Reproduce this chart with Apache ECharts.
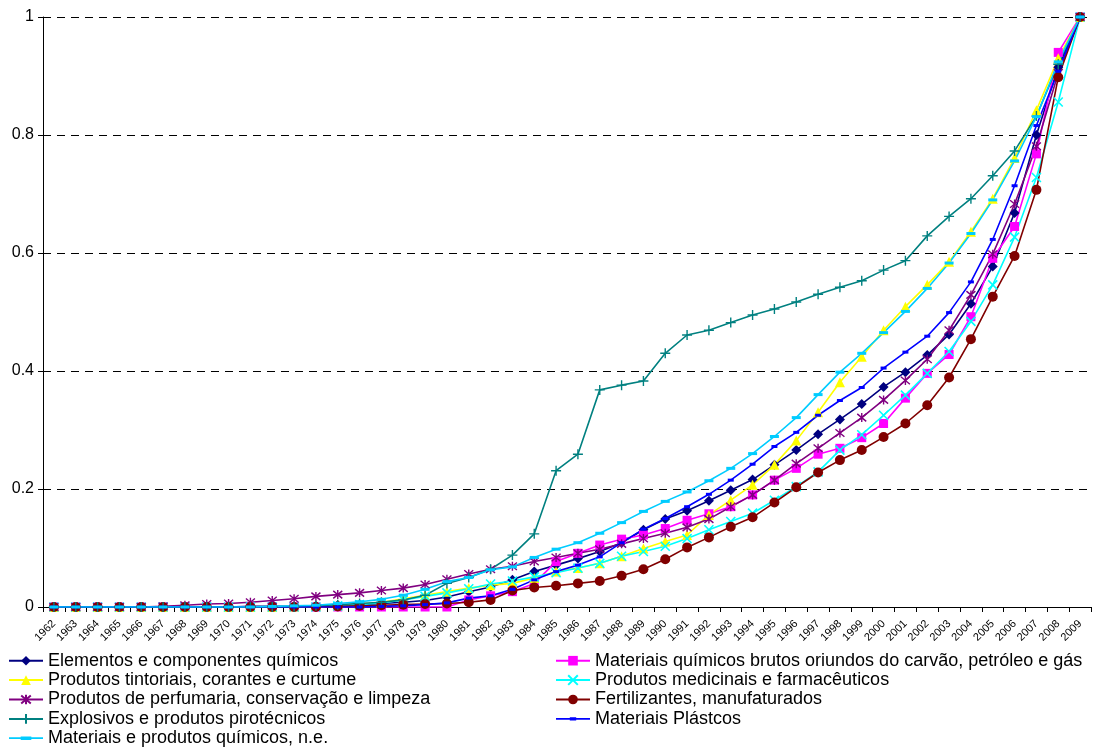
<!DOCTYPE html>
<html>
<head>
<meta charset="utf-8">
<style>
  html, body { margin: 0; padding: 0; background: #fff; }
  #chart { width: 1093px; height: 749px; }
</style>
<script src="https://cdn.jsdelivr.net/npm/echarts@6/dist/echarts.min.js"></script>
</head>
<body>
<div id="chart"></div>
<script>
// Years 1962–2009
const years = [];
for (let y = 1962; y <= 2009; y++) years.push(String(y));

const yTicks = [0, 0.2, 0.4, 0.6, 0.8, 1];

// Cumulative share per category, 1962..2009
const elementos = [0,0,0,0,0,0,0,0,0,0.001,0.001,0.001,0.002,0.003,0.004,0.006,0.008,0.011,0.017,0.026,0.034,0.046,0.060,0.071,0.082,0.094,0.109,0.131,0.149,0.163,0.180,0.198,0.216,0.241,0.266,0.293,0.318,0.344,0.373,0.398,0.427,0.462,0.514,0.577,0.668,0.800,0.915,1];
const brutos = [0,0,0,0,0,0,0,0,0,0,0,0,0,0,0,0,0,0,0,0.012,0.019,0.026,0.040,0.077,0.091,0.105,0.115,0.122,0.133,0.147,0.158,0.170,0.190,0.215,0.235,0.259,0.269,0.287,0.311,0.354,0.396,0.428,0.492,0.591,0.645,0.768,0.940,1];
const tintoriais = [0,0,0,0,0,0,0,0,0,0,0,0.001,0.002,0.003,0.005,0.008,0.014,0.020,0.026,0.032,0.037,0.040,0.049,0.060,0.066,0.074,0.086,0.099,0.111,0.122,0.156,0.181,0.207,0.241,0.282,0.330,0.381,0.424,0.469,0.509,0.546,0.585,0.636,0.692,0.761,0.842,0.930,1];
const medicinais = [0,0,0,0,0,0,0,0,0,0,0,0,0,0.002,0.004,0.007,0.012,0.018,0.024,0.031,0.039,0.044,0.051,0.058,0.066,0.074,0.086,0.094,0.103,0.116,0.131,0.145,0.159,0.181,0.204,0.229,0.266,0.292,0.325,0.359,0.396,0.433,0.484,0.546,0.627,0.728,0.856,1];
const perfumaria = [0,0,0,0,0,0.001,0.003,0.005,0.006,0.008,0.011,0.014,0.018,0.021,0.024,0.028,0.032,0.038,0.047,0.056,0.064,0.069,0.077,0.084,0.091,0.098,0.107,0.116,0.125,0.135,0.149,0.170,0.190,0.215,0.243,0.269,0.295,0.321,0.351,0.384,0.420,0.469,0.529,0.598,0.683,0.781,0.905,1];
const fertilizantes = [0,0,0,0,0,0,0,0,0,0,0,0,0,0.001,0.002,0.003,0.004,0.005,0.006,0.008,0.012,0.028,0.033,0.036,0.040,0.044,0.053,0.064,0.081,0.101,0.118,0.136,0.152,0.177,0.203,0.228,0.249,0.266,0.288,0.311,0.342,0.389,0.454,0.526,0.595,0.707,0.898,1];
const explosivos = [0,0,0,0,0,0,0,0,0,0,0,0,0.002,0.004,0.006,0.008,0.012,0.020,0.040,0.050,0.064,0.088,0.124,0.231,0.259,0.368,0.376,0.383,0.430,0.461,0.469,0.482,0.495,0.505,0.517,0.530,0.542,0.553,0.571,0.587,0.629,0.662,0.692,0.731,0.773,0.832,0.920,1];
const plasticos = [0,0,0,0,0,0,0,0,0,0,0,0,0,0,0,0.001,0.002,0.004,0.007,0.015,0.019,0.030,0.046,0.060,0.071,0.085,0.109,0.132,0.150,0.170,0.191,0.215,0.242,0.272,0.296,0.325,0.350,0.372,0.405,0.432,0.459,0.499,0.551,0.623,0.714,0.816,0.908,1];
const ne = [0,0,0,0,0,0,0,0,0,0,0.001,0.002,0.003,0.006,0.009,0.013,0.020,0.030,0.043,0.050,0.063,0.068,0.084,0.098,0.109,0.125,0.143,0.162,0.179,0.195,0.214,0.235,0.260,0.289,0.321,0.360,0.398,0.430,0.465,0.501,0.540,0.583,0.633,0.690,0.756,0.831,0.924,1];

const names = {
  elementos: 'Elementos e componentes químicos',
  brutos: 'Materiais químicos brutos oriundos do carvão, petróleo e gás',
  tintoriais: 'Produtos tintoriais, corantes e curtume',
  medicinais: 'Produtos medicinais e farmacêuticos',
  perfumaria: 'Produtos de perfumaria, conservação e limpeza',
  fertilizantes: 'Fertilizantes, manufaturados',
  explosivos: 'Explosivos e produtos pirotécnicos',
  plasticos: 'Materiais Plástcos',
  ne: 'Materiais e produtos químicos, n.e.'
};

const X_PATH = 'path://M0,0L10,10M10,0L0,10';
const STAR_PATH = 'path://M0,0L10,10M10,0L0,10M5,-1L5,11';
const PLUS_PATH = 'path://M5,0L5,10M0,5L10,5';

// Legend icons for the dash-marker series: a line with a small bar on it
const DASH_ICON_SMALL = 'path://M0,0.7L13,0.7L13,0L19,0L19,3L13,3L13,2.3L0,2.3Z M19,0.7L32,0.7L32,2.3L19,2.3Z';
const DASH_ICON_WIDE = 'path://M0,0.7L11,0.7L11,0L21,0L21,3.4L11,3.4L11,2.3L0,2.3Z M21,0.7L32,0.7L32,2.3L21,2.3Z';

function line(name, data, color, symbol, size, stroke) {
  return {
    name: name,
    type: 'line',
    data: data,
    symbol: symbol,
    symbolSize: size,
    showAllSymbol: true,
    animation: false,
    lineStyle: { color: color, width: 1.6 },
    itemStyle: { color: color, borderColor: color, borderWidth: stroke || 0 },
    emphasis: { disabled: true }
  };
}

const series = [
  line(names.elementos, elementos, '#000080', 'diamond', 10),
  line(names.brutos, brutos, '#FF00FF', 'rect', 9),
  line(names.tintoriais, tintoriais, '#FFFF00', 'triangle', 10),
  line(names.medicinais, medicinais, '#00FFFF', X_PATH, 9, 1.6),
  line(names.perfumaria, perfumaria, '#800080', STAR_PATH, 9, 1.4),
  line(names.fertilizantes, fertilizantes, '#800000', 'circle', 10),
  line(names.explosivos, explosivos, '#008080', PLUS_PATH, 10, 1.4),
  line(names.plasticos, plasticos, '#0000FF', 'rect', [6, 3]),
  line(names.ne, ne, '#00CCFF', 'rect', [9, 3])
];

const legendText = { fontFamily: 'Liberation Sans, Arial, sans-serif', fontSize: 18, color: '#000', lineHeight: 19.4 };
const legendBase = {
  orient: 'vertical', top: 651, padding: 0, itemWidth: 34, itemHeight: 12, itemGap: 0,
  textStyle: legendText, selectedMode: false, height: 98
};

const chart = echarts.init(document.getElementById('chart'), null, { renderer: 'canvas' });
chart.setOption({
  backgroundColor: '#fff',
  animation: false,
  grid: { left: 43, right: 2, top: 17, bottom: 142, containLabel: false },
  legend: [
    Object.assign({}, legendBase, {
      left: 8,
      data: [names.elementos, names.tintoriais, names.perfumaria, names.explosivos,
             { name: names.ne, icon: DASH_ICON_WIDE }]
    }),
    Object.assign({}, legendBase, {
      left: 555,
      data: [names.brutos, names.medicinais, names.fertilizantes,
             { name: names.plasticos, icon: DASH_ICON_SMALL }]
    })
  ],
  xAxis: {
    type: 'category',
    data: years,
    boundaryGap: true,
    axisLine: { lineStyle: { color: '#000', width: 1 } },
    axisTick: { show: true, length: 5, lineStyle: { color: '#000' } },
    axisLabel: {
      interval: 0, rotate: 45, fontSize: 11, color: '#000', margin: 15,
      fontFamily: 'Liberation Sans, Arial, sans-serif'
    },
    splitLine: { show: false }
  },
  yAxis: {
    type: 'value',
    min: yTicks[0],
    max: yTicks[yTicks.length - 1],
    interval: 0.2,
    axisLine: { show: true, lineStyle: { color: '#000', width: 1 } },
    axisTick: { show: true, length: 5, lineStyle: { color: '#000' } },
    axisLabel: {
      fontSize: 16, color: '#000', margin: 9,
      fontFamily: 'Liberation Sans, Arial, sans-serif',
      formatter: function (v) { return String(Math.round(v * 10) / 10); }
    },
    splitLine: { show: true, lineStyle: { color: '#000', type: [8, 6], width: 1 } }
  },
  series: series
});
</script>
</body>
</html>
